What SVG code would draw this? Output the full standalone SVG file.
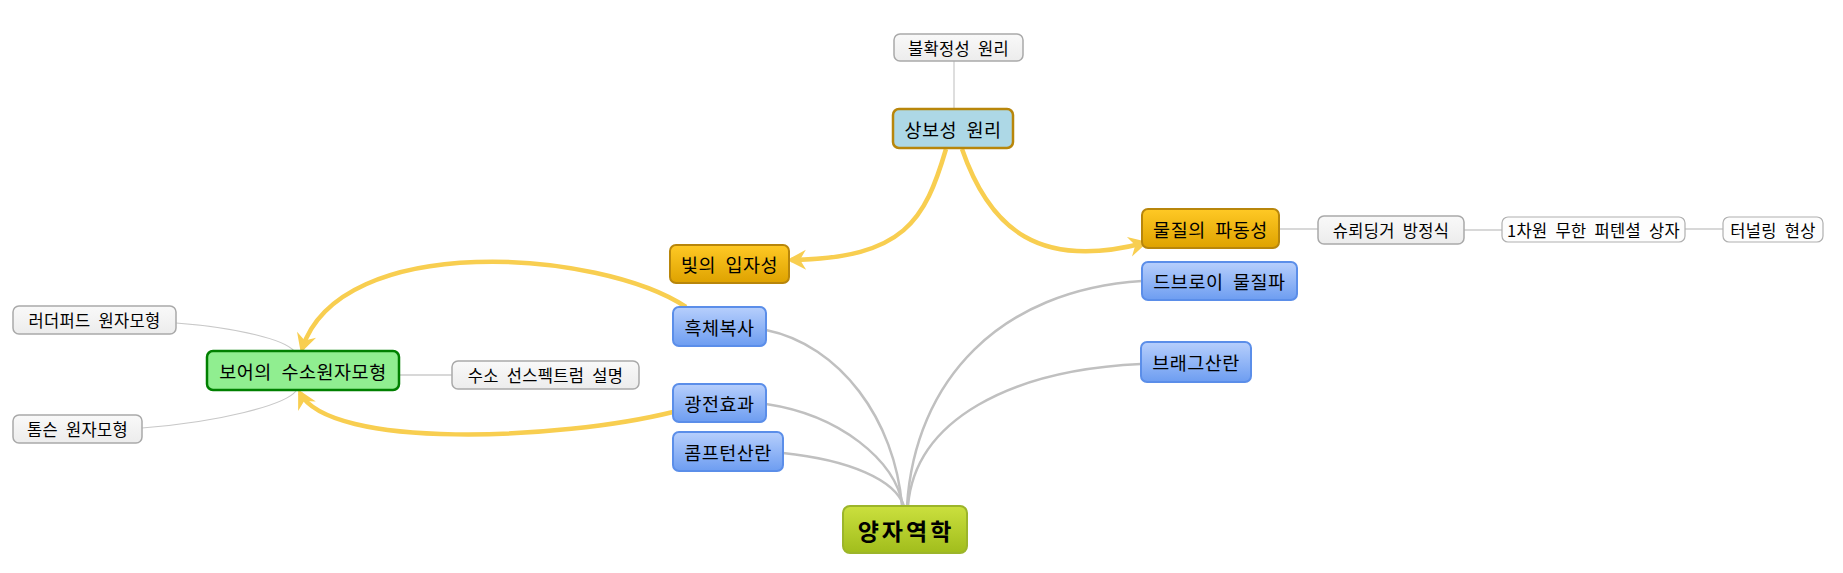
<svg xmlns="http://www.w3.org/2000/svg" width="1843" height="573" viewBox="0 0 1843 573">
<style>
text{font-family:"Noto Sans CJK KR","Noto Sans",sans-serif;text-anchor:middle;dominant-baseline:central;fill:#000}
.t{font-size:18.5px;letter-spacing:0.5px;word-spacing:5px}
.s{font-size:16.5px;letter-spacing:0.3px;word-spacing:4px}
.gray rect{fill:url(#gGray);stroke:#a9a9a9;stroke-width:1.5}
.white rect{fill:#fdfdfd;stroke:#b0b0b0;stroke-width:1.2}
.blue rect{fill:url(#gBlue);stroke:#5b8ee9;stroke-width:2}
.orange rect{fill:url(#gOrange);stroke:#b8860b;stroke-width:2}
.wire{fill:none;stroke:#c0c0c0;stroke-width:2.5}
.thin{fill:none;stroke:#c8c8c8;stroke-width:1.2}
.link{fill:none;stroke:#d8d8d8;stroke-width:2}
.rel{fill:none;stroke:#f8ce50;stroke-width:4.5;marker-end:url(#arr)}
</style>
<defs>
<linearGradient id="gGray" x1="0" y1="0" x2="0" y2="1"><stop offset="0" stop-color="#f9f9f9"/><stop offset="1" stop-color="#ececec"/></linearGradient>
<linearGradient id="gBlue" x1="0" y1="0" x2="0" y2="1"><stop offset="0" stop-color="#b7cffc"/><stop offset="1" stop-color="#6d9df1"/></linearGradient>
<linearGradient id="gOrange" x1="0" y1="0" x2="0" y2="1"><stop offset="0" stop-color="#ffc925"/><stop offset="1" stop-color="#dea200"/></linearGradient>
<linearGradient id="gRoot" x1="0" y1="0" x2="0" y2="1"><stop offset="0" stop-color="#cbe03e"/><stop offset="1" stop-color="#a1bd1c"/></linearGradient>
<marker id="arr" markerUnits="userSpaceOnUse" viewBox="-20 -12 26 24" refX="-2" refY="0" markerWidth="26" markerHeight="24" orient="auto">
<path d="M2,0 L-17,-10 L-11,0 L-17,10 Z" fill="#f8ce50"/>
</marker>
</defs>
<g id="connectors">
<path class="wire" d="M766 330 C840 345 895 420 902 506"/>
<path class="wire" d="M766 404 C840 415 895 460 903 506"/>
<path class="wire" d="M783 453 C850 460 895 480 904 506"/>
<path class="wire" d="M1142 281 C1000 290 915 380 907 506"/>
<path class="wire" d="M1141 364 C1010 370 915 420 908 506"/>
<path class="thin" d="M954 61 L954 109"/>
<path class="thin" d="M176 323 C240 328 285 340 294 351"/>
<path class="thin" d="M142 428 C220 422 285 405 296 391"/>
<path class="link" d="M399 375 L452 375"/>
<path class="link" d="M1279 229 L1318 229"/>
<path class="link" d="M1464 230 L1502 230"/>
<path class="link" d="M1685 229 L1723 229"/>
<path class="rel" d="M946 149 C925 220 905 258 791 260"/>
<path class="rel" d="M962 149 C990 230 1040 270 1144 243"/>
<path class="rel" d="M686 307 C600 250 340 230 302 349"/>
<path class="rel" d="M673 412 C560 440 330 450 300 393"/>
</g>
<g id="n-uncertainty" class="gray"><rect x="894" y="34" width="129" height="27" rx="6"/><text class="s" x="958.5" y="47.5">불확정성 원리</text></g>
<g id="n-complementarity"><rect x="893" y="109" width="120" height="39" rx="6" fill="#add8e6" stroke="#b8860b" stroke-width="2.5"/><text class="t" x="953" y="128.5">상보성 원리</text></g>
<g id="n-particle" class="orange"><rect x="670" y="245" width="119" height="38" rx="6"/><text class="t" x="729.5" y="264">빛의 입자성</text></g>
<g id="n-wave" class="orange"><rect x="1142" y="209" width="137" height="39" rx="6"/><text class="t" x="1210.5" y="228.5">물질의 파동성</text></g>
<g id="n-schrodinger" class="gray"><rect x="1318" y="216" width="146" height="28" rx="6"/><text class="s" x="1391" y="230">슈뢰딩거 방정식</text></g>
<g id="n-box" class="white"><rect x="1502" y="217" width="183" height="25" rx="6"/><text class="s" x="1593.5" y="229.5">1차원 무한 퍼텐셜 상자</text></g>
<g id="n-tunnel" class="white"><rect x="1723" y="217" width="100" height="25" rx="6"/><text class="s" x="1773" y="229.5">터널링 현상</text></g>
<g id="n-debroglie" class="blue"><rect x="1142" y="262" width="155" height="38" rx="6"/><text class="t" x="1219.5" y="281">드브로이 물질파</text></g>
<g id="n-bragg" class="blue"><rect x="1141" y="342" width="110" height="40" rx="6"/><text class="t" x="1196" y="362">브래그산란</text></g>
<g id="n-rutherford" class="gray"><rect x="13" y="306" width="163" height="28" rx="6"/><text class="s" x="94.5" y="320">러더퍼드 원자모형</text></g>
<g id="n-bohr"><rect x="207" y="351" width="192" height="39" rx="6" fill="#90ee90" stroke="#008000" stroke-width="2.5"/><text class="t" x="303" y="370.5">보어의 수소원자모형</text></g>
<g id="n-spectrum" class="gray"><rect x="452" y="361" width="187" height="28" rx="6"/><text class="s" x="545.5" y="375">수소 선스펙트럼 설명</text></g>
<g id="n-thomson" class="gray"><rect x="13" y="415" width="129" height="28" rx="6"/><text class="s" x="77.5" y="429">톰슨 원자모형</text></g>
<g id="n-blackbody" class="blue"><rect x="673" y="307" width="93" height="39" rx="6"/><text class="t" x="719.5" y="326.5">흑체복사</text></g>
<g id="n-photoelectric" class="blue"><rect x="673" y="384" width="93" height="38" rx="6"/><text class="t" x="719.5" y="403">광전효과</text></g>
<g id="n-compton" class="blue"><rect x="673" y="432" width="110" height="39" rx="6"/><text class="t" x="728" y="451.5">콤프턴산란</text></g>
<g id="n-root"><rect x="843" y="506" width="124" height="47" rx="7" fill="url(#gRoot)" stroke="#9cb52a" stroke-width="2"/><text x="906" y="529.5" font-size="23" font-weight="bold" letter-spacing="3">양자역학</text></g>
</svg>
